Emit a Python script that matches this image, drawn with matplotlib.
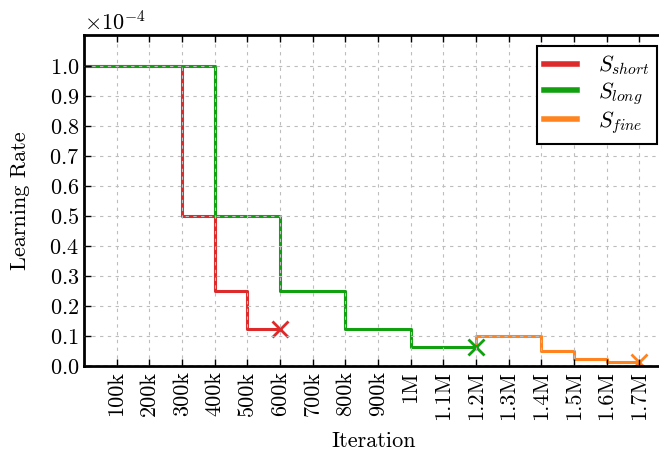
import numpy as np
import matplotlib
matplotlib.use("Agg")
from matplotlib import pyplot as plt
from matplotlib.ticker import ScalarFormatter

plt.rcParams["font.family"] = "serif"
plt.rcParams["font.serif"] = ["cmr10"]
plt.rcParams["mathtext.fontset"] = "cm"
plt.rcParams["axes.formatter.use_mathtext"] = True
plt.rcParams["axes.unicode_minus"] = False

# learning rate schedules (values in units of 1e-4)
short_x = [0, 300e3, 400e3, 500e3, 600e3]
short_y = [1.0, 0.5, 0.25, 0.125, 0.125]
long_x = [0, 400e3, 600e3, 800e3, 1.0e6, 1.2e6]
long_y = [1.0, 0.5, 0.25, 0.125, 0.0625, 0.0625]
fine_x = [1.2e6, 1.2e6, 1.4e6, 1.5e6, 1.6e6, 1.7e6]
fine_y = [0.0625, 0.1, 0.05, 0.025, 0.0125, 0.0125]

xtick_pos = [100e3 * i for i in range(1, 18)]
xtick_lab = ["100k", "200k", "300k", "400k", "500k", "600k", "700k", "800k",
             "900k", "1M", "1.1M", "1.2M", "1.3M", "1.4M", "1.5M", "1.6M", "1.7M"]
ytick_pos = [0.1 * i for i in range(11)]

c_short = "#dd2a2a"
c_long = "#10a010"
c_fine = "#ff8420"

fs = 16

fig = plt.figure(figsize=(6.59, 4.53), dpi=100)
ax = fig.add_axes([0.1275, 0.192, 0.88, 0.731])

scale = 1e-4
ax.plot(short_x, np.array(short_y) * scale, drawstyle="steps-post", color=c_short, lw=2.2, label=r"$S_{short}$")
ax.plot(long_x, np.array(long_y) * scale, drawstyle="steps-post", color=c_long, lw=2.2, label=r"$S_{long}$")
ax.plot(fine_x, np.array(fine_y) * scale, drawstyle="steps-post", color=c_fine, lw=2.2, label=r"$S_{fine}$")

ax.plot(short_x[-1], short_y[-1] * scale, "x", color=c_short, ms=11, mew=2)
ax.plot(long_x[-1], long_y[-1] * scale, "x", color=c_long, ms=11, mew=2)
ax.plot(fine_x[-1], fine_y[-1] * scale, "x", color=c_fine, ms=11, mew=2)

ax.set_xlim(0, 1.775e6)
ax.set_ylim(0, 1.105e-4)
ax.set_xticks(xtick_pos)
ax.set_xticklabels(xtick_lab, rotation=90)
ax.set_yticks(np.array(ytick_pos) * scale)
fmt = ScalarFormatter(useMathText=True)
fmt.set_powerlimits((-3, 3))
ax.yaxis.set_major_formatter(fmt)
ax.yaxis.get_offset_text().set_fontsize(fs)

ax.tick_params(direction="in", top=True, right=False, length=5, width=1, labelsize=fs)
for s in ax.spines.values():
    s.set_linewidth(2)

ax.set_axisbelow(False)
ax.grid(True, ls=(0, (3, 4)), color="#bdbdbd", lw=0.8)

ax.set_xlabel("Iteration", fontsize=fs, labelpad=8)
ax.set_ylabel("Learning Rate", fontsize=fs, labelpad=14)

leg = ax.legend(loc="upper right", bbox_to_anchor=(0.988, 0.967), borderaxespad=0,
                fontsize=fs, fancybox=False, edgecolor="black", framealpha=1,
                handlelength=1.45, handletextpad=0.95, borderpad=0.35, labelspacing=0.1)
leg.get_frame().set_linewidth(1.5)
for h in leg.legend_handles:
    h.set_linewidth(4)

fig.savefig("out.png", dpi=100)
